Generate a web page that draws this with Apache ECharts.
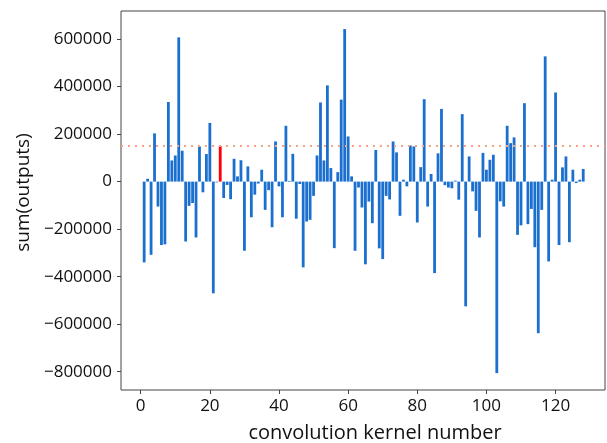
<!DOCTYPE html>
<html>
<head>
<meta charset="utf-8">
<script src="https://cdn.jsdelivr.net/npm/echarts@6/dist/echarts.min.js"></script>
<style>
  html, body { margin: 0; padding: 0; background: #fff; }
  #chart { width: 607px; height: 443px; }
</style>
</head>
<body>
<div id="chart"></div>
<script>
// sum of outputs per convolution kernel (kernel numbers 1..128)
var sumOutputs = [
  -340000, 12000, -308000, 203000, -105000, -267000, -264000, 335000, 89000, 110000,
  607000, 130000, -252000, -102000, -90000, -235000, 148000, -45000, 116000, 247000,
  -470000, -3000, 150000, -69000, -14000, -74000, 96000, 22000, 90000, -291000,
  64000, -150000, -55000, -8000, 50000, -119000, -36000, -192000, 169000, -20000,
  -150000, 235000, 3000, 117000, -156000, -10000, -361000, -168000, -161000, -60000,
  110000, 333000, 89000, 405000, 57000, -280000, 40000, 345000, 642000, 190000,
  22000, -291000, -25000, -109000, -348000, -84000, -175000, 133000, -281000, -326000,
  -60000, -75000, 169000, 123000, -144000, 8000, -20000, 152000, 148000, -172000,
  61000, 347000, -105000, 32000, -385000, 119000, 306000, -15000, -25000, -28000,
  4000, -76000, 284000, -525000, 106000, -41000, -123000, -235000, 121000, 50000,
  92000, 113000, -806000, -83000, -105000, 235000, 162000, 186000, -224000, -184000,
  330000, -179000, -115000, -276000, -638000, -119000, 527000, -336000, 8000, 375000,
  -267000, 60000, 106000, -255000, 50000, -6000, 8000, 53000
];
var highlightIndex = 22;     // the red bar
var thresholdValue = 150000; // dotted reference line
var xTickStep = 20;

var myChart = echarts.init(document.getElementById('chart'));

var barData = sumOutputs.map(function (v, i) {
  if (i === highlightIndex) {
    return { value: [i + 1, v], itemStyle: { color: '#ff0000' } };
  }
  return [i + 1, v];
});

var labelFont = { fontFamily: 'Open Sans', fontSize: 17, color: '#111' };

var option = {
  animation: false,
  backgroundColor: '#fff',
  grid: {
    left: 121, top: 11, width: 484, height: 379,
    outerBoundsMode: 'none',
    containLabel: false,
    show: true, borderColor: '#444', borderWidth: 1
  },
  xAxis: {
    type: 'value',
    min: -5.7,
    max: 134.3,
    splitNumber: 7,
    name: 'convolution kernel number',
    nameLocation: 'middle',
    nameGap: 33,
    nameTextStyle: { fontFamily: 'Open Sans', fontSize: 20, color: '#111', padding: [0, 0, 0, 24] },
    axisLine: { show: false, onZero: false },
    axisTick: { show: true, length: 4, lineStyle: { color: '#444' } },
    splitLine: { show: false },
    axisLabel: {
      showMinLabel: false, showMaxLabel: false, margin: 8,
      fontFamily: labelFont.fontFamily, fontSize: labelFont.fontSize, color: labelFont.color,
      formatter: function (v) { return v % xTickStep === 0 ? String(v) : ''; }
    }
  },
  yAxis: {
    type: 'value',
    min: -877000,
    max: 718000,
    splitNumber: 8,
    name: 'sum(outputs)',
    nameLocation: 'middle',
    nameGap: 79,
    nameRotate: 90,
    nameTextStyle: { fontFamily: 'Open Sans', fontSize: 19, color: '#111', padding: [0, 0, 0, 16] },
    axisLine: { show: false, onZero: false },
    axisTick: { show: true, length: 4, lineStyle: { color: '#444' } },
    splitLine: { show: false },
    axisLabel: {
      showMinLabel: false, showMaxLabel: false, margin: 9,
      fontFamily: labelFont.fontFamily, fontSize: labelFont.fontSize, color: labelFont.color,
      formatter: function (v) { return v < 0 ? '\u2212' + Math.abs(v) : String(v); }
    }
  },
  series: [{
    type: 'bar',
    data: barData,
    barWidth: 2.8,
    itemStyle: { color: '#1a6fcf' },
    markLine: {
      silent: true,
      symbol: 'none',
      label: { show: false },
      lineStyle: { color: '#f7a486', type: [2, 5], width: 2 },
      data: [{ yAxis: thresholdValue }]
    }
  }]
};

myChart.setOption(option);
</script>
</body>
</html>
